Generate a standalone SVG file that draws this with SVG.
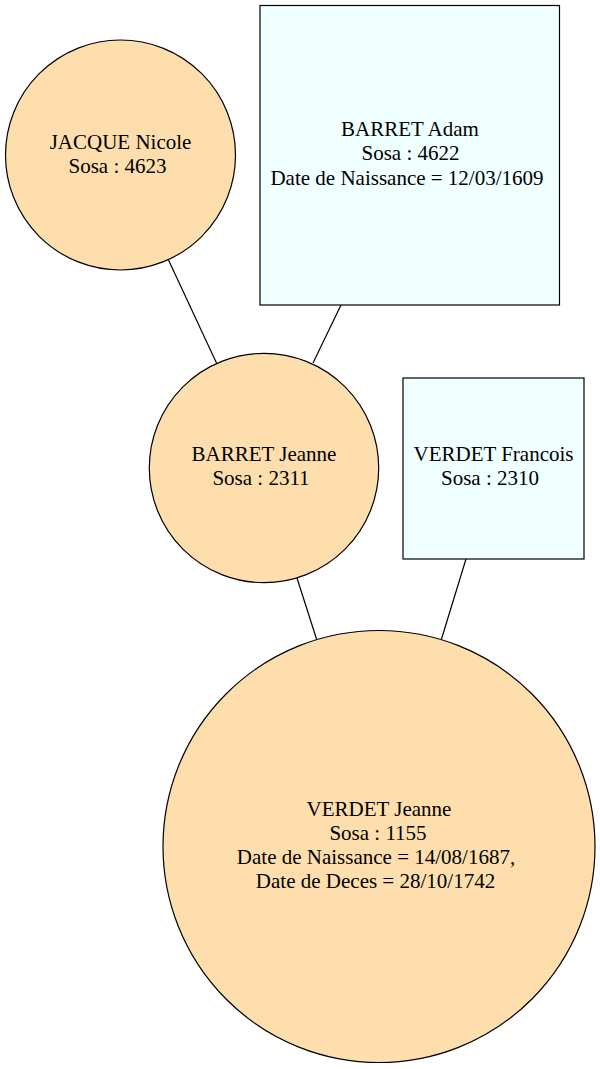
<svg xmlns="http://www.w3.org/2000/svg" width="600" height="1069" viewBox="0 0 600 1069">
<style>
.f{fill:#ffdead;stroke:#000;stroke-width:1.2}
.m{fill:#f0ffff;stroke:#000;stroke-width:1.2}
.e{stroke:#000;stroke-width:1.2;fill:none}
text{font-family:"Liberation Serif","Times New Roman",serif;font-size:21px;fill:#000;text-anchor:middle}
</style>
<rect width="600" height="1069" fill="#fff"/>
<g id="edges">
<line class="e" x1="168.5" y1="260" x2="216.5" y2="363"/>
<line class="e" x1="341" y1="305" x2="313" y2="363"/>
<line class="e" x1="297" y1="578" x2="316.5" y2="639"/>
<line class="e" x1="466" y1="559" x2="441.5" y2="639"/>
</g>
<g id="n4623">
<circle class="f" cx="120.5" cy="155" r="115"/>
<text x="120.5" y="148.5">JACQUE Nicole</text>
<text x="117.5" y="172.5">Sosa : 4623</text>
</g>
<g id="n4622">
<rect class="m" x="260" y="5.5" width="299.5" height="299.5"/>
<text x="410" y="136">BARRET Adam</text>
<text x="410.5" y="160">Sosa : 4622</text>
<text x="407" y="184.5">Date de Naissance = 12/03/1609</text>
</g>
<g id="n2311">
<circle class="f" cx="264" cy="468" r="114.7"/>
<text x="264" y="461">BARRET Jeanne</text>
<text x="261" y="485">Sosa : 2311</text>
</g>
<g id="n2310">
<rect class="m" x="403" y="378" width="181" height="181"/>
<text x="493.5" y="461">VERDET Francois</text>
<text x="490" y="485">Sosa : 2310</text>
</g>
<g id="n1155">
<circle class="f" cx="379" cy="846.5" r="216"/>
<text x="379" y="816">VERDET Jeanne</text>
<text x="378" y="840">Sosa : 1155</text>
<text x="376" y="864">Date de Naissance = 14/08/1687,</text>
<text x="375.5" y="888">Date de Deces = 28/10/1742</text>
</g>
</svg>
